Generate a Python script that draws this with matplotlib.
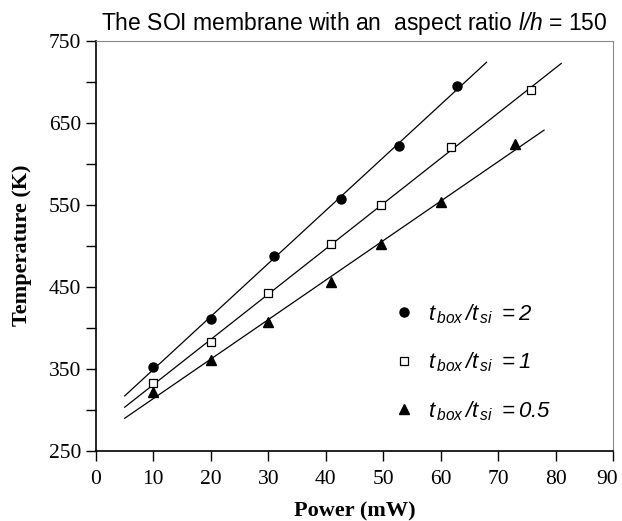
import numpy as np
import matplotlib
matplotlib.use("Agg")
import matplotlib.pyplot as plt
from matplotlib.transforms import ScaledTranslation

plt.rcParams['mathtext.fontset'] = 'custom'
plt.rcParams['mathtext.rm'] = 'Liberation Sans:italic'
plt.rcParams['mathtext.it'] = 'Liberation Sans:italic'

# power (mW) and temperature (K) for each oxide/silicon thickness ratio
p_ratio2 = [10, 20, 31, 42.7, 52.7, 62.8]
t_ratio2 = [352, 411, 487, 557, 621, 695]
p_ratio1 = [10, 20, 30, 41, 49.7, 61.8, 75.7]
t_ratio1 = [332, 382, 442, 502, 550, 620, 690]
p_ratio05 = [10, 20, 30, 41, 49.7, 60, 73]
t_ratio05 = [321, 361, 407, 456, 502, 553, 624]

# x range of each trend line
fit_range2 = [5, 68]
fit_range1 = [5, 81]
fit_range05 = [5, 78]

labels = [r'$t_{\,box}\,/t_{\,si}\ =2$', r'$t_{\,box}\,/t_{\,si}\ =1$', r'$t_{\,box}\,/t_{\,si}\ =0.5$']

fig = plt.figure(figsize=(6.22, 5.21), dpi=100)
ax = fig.add_axes([0.1543, 0.1349, 0.8312, 0.787])

series = [
    (p_ratio2, t_ratio2, fit_range2, dict(marker='o', color='black', markersize=6.5)),
    (p_ratio1, t_ratio1, fit_range1, dict(marker='s', markerfacecolor='white', markeredgecolor='black', markersize=6, markeredgewidth=0.9)),
    (p_ratio05, t_ratio05, fit_range05, dict(marker='^', color='black', markersize=7.5)),
]
for (x, y, rng, style), lab in zip(series, labels):
    k, b = np.polyfit(x, y, 1)
    xx = np.array(rng)
    ax.plot(xx, k * xx + b, color='black', linewidth=0.9)
    ax.plot(x, y, linestyle='none', label=lab, **style)

ax.set_xlim(0, 90)
ax.set_ylim(250, 750)
ax.set_xticks(range(0, 91, 10))
ax.set_yticks(range(250, 751, 100))
ax.set_yticks(range(300, 751, 100), minor=True)
ax.tick_params(which='both', direction='out', length=7, width=1, labelsize=15.5)
ax.tick_params(axis='x', pad=7)
for lab in ax.get_xticklabels() + ax.get_yticklabels():
    lab.set_fontfamily('Liberation Serif')
# keep the last x label inside the figure
last = ax.get_xticklabels()[-1]
last.set_transform(last.get_transform() + ScaledTranslation(-4 / 72, 0, fig.dpi_scale_trans))

for s in ['top', 'right']:
    ax.spines[s].set_color('#888888')
    ax.spines[s].set_linewidth(0.8)
for s in ['left', 'bottom']:
    ax.spines[s].set_linewidth(1.2)

ax.set_xlabel('Power (mW)', fontsize=16, fontweight='bold', family='Liberation Serif', labelpad=9)
ax.set_ylabel('Temperature (K)', fontsize=16, fontweight='bold', family='Liberation Serif', labelpad=12)
ax.set_title('The SOI membrane with an  aspect ratio $l/h$ = 150', fontsize=16.5,
             family='Liberation Sans', pad=8)

ax.legend(loc='lower left', bbox_to_anchor=(0.535, 0.02), frameon=False, fontsize=16,
          labelspacing=1.12, handletextpad=0.6, handlelength=1.0)

plt.savefig('out.png', dpi=100)
